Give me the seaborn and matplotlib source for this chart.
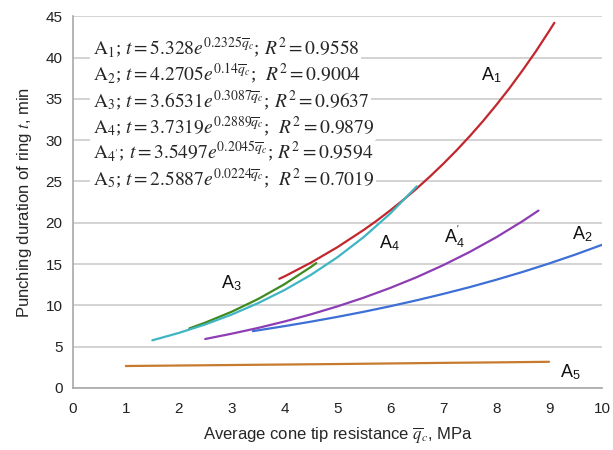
import matplotlib
matplotlib.use("Agg")
import matplotlib.pyplot as plt
import seaborn as sns
import pandas as pd

# ---- data ----
a1_q = [3.9, 4.0, 4.5, 5.0, 5.5, 5.75, 6.0, 6.25, 6.5, 6.75, 7.0, 7.25, 7.5, 7.75, 8.0, 8.25, 8.5, 8.75, 9.0, 9.1]
a1_t = [13.21, 13.50, 15.17, 17.04, 19.14, 20.28, 21.50, 22.79, 24.15, 25.60, 27.13, 28.75, 30.47, 32.29,
        34.23, 36.27, 38.45, 40.74, 43.19, 44.20]

a2_q = [3.4, 4.0, 4.5, 5.0, 5.5, 6.0, 6.5, 7.0, 7.5, 8.0, 8.5, 9.0, 9.5, 10.0]
a2_t = [6.87, 7.48, 8.02, 8.60, 9.22, 9.89, 10.61, 11.38, 12.20, 13.09, 14.04, 15.06, 16.15, 17.32]

a3_q = [2.2, 2.5, 3.0, 3.5, 4.0, 4.5, 4.6]
a3_t = [7.20, 7.90, 9.22, 10.76, 12.56, 14.65, 15.11]

a4_q = [1.5, 2.0, 2.5, 3.0, 3.5, 4.0, 4.5, 5.0, 5.5, 6.0, 6.5]
a4_t = [5.76, 6.65, 7.68, 8.88, 10.26, 11.85, 13.69, 15.82, 18.28, 21.12, 24.41]

a4p_q = [2.5, 3.0, 3.5, 4.0, 4.5, 5.0, 5.5, 6.0, 6.5, 7.0, 7.5, 8.0, 8.5, 8.8]
a4p_t = [5.92, 6.56, 7.26, 8.04, 8.91, 9.87, 10.93, 12.11, 13.41, 14.86, 16.46, 18.23, 20.19, 21.47]

a5_q = [1, 2, 3, 4, 5, 6, 7, 8, 9]
a5_t = [2.65, 2.71, 2.77, 2.83, 2.89, 2.96, 3.03, 3.09, 3.16]

series_names = ["A1", "A2", "A3", "A4", "A4p", "A5"]
colors = ["#C1272D", "#3D6FD6", "#3F8A1F", "#3FB5C4", "#8D3DB3", "#C77B2E"]

equations = [
    r"$\mathrm{A}_1$; $t = 5.328e^{0.2325\overline{q}_c}$; $R^2 = 0.9558$",
    r"$\mathrm{A}_2$; $t = 4.2705e^{0.14\overline{q}_c}$;  $R^2 = 0.9004$",
    r"$\mathrm{A}_3$; $t = 3.6531e^{0.3087\overline{q}_c}$; $R^2 = 0.9637$",
    r"$\mathrm{A}_4$; $t = 3.7319e^{0.2889\overline{q}_c}$;  $R^2 = 0.9879$",
    r"$\mathrm{A}_{4'}$; $t = 3.5497e^{0.2045\overline{q}_c}$; $R^2 = 0.9594$",
    r"$\mathrm{A}_5$; $t = 2.5887e^{0.0224\overline{q}_c}$;  $R^2 = 0.7019$",
]

curve_labels = [r"A$_\mathregular{1}$", r"A$_\mathregular{2}$", r"A$_\mathregular{3}$",
                r"A$_\mathregular{4}$", r"A$^\mathregular{'}_\mathregular{4}$", r"A$_\mathregular{5}$"]
label_pos = [(7.9, 37.8), (9.62, 18.6), (3.0, 12.7), (5.99, 17.5), (7.22, 18.3), (9.4, 1.9)]

frames = []
for name, q, t in zip(series_names,
                      [a1_q, a2_q, a3_q, a4_q, a4p_q, a5_q],
                      [a1_t, a2_t, a3_t, a4_t, a4p_t, a5_t]):
    frames.append(pd.DataFrame({"q": q, "t": t, "series": name}))
df = pd.concat(frames, ignore_index=True)

sns.set_style("white")
plt.rcParams["font.family"] = ["Liberation Sans", "DejaVu Sans"]
plt.rcParams["mathtext.fontset"] = "stix"

fig = plt.figure(figsize=(6.13, 4.5), dpi=100)
ax = fig.add_axes([0.119, 0.138, 0.863, 0.826])

for i, name in enumerate(series_names):
    sub = df[df["series"] == name]
    sns.lineplot(data=sub, x="q", y="t", color=colors[i], lw=1.6, ax=ax,
                 legend=False, sort=True, zorder=3)

ax.set_xlim(0, 10)
ax.set_ylim(0, 45)
ax.set_xticks(range(0, 11))
ax.set_yticks(range(0, 46, 5))
ax.yaxis.grid(True, color="#D3D3D3", lw=1.4, zorder=0)
ax.xaxis.grid(False)
ax.set_axisbelow(True)
for s in ["top", "right"]:
    ax.spines[s].set_visible(False)
for s in ["left", "bottom"]:
    ax.spines[s].set_color("#A8A8A8")
    ax.spines[s].set_linewidth(1.2)
ax.tick_params(axis="both", which="both", length=4, color="#A8A8A8",
               labelsize=11, labelcolor="#222222", direction="out")
ax.tick_params(axis="x", pad=6)

ax.set_xlabel(r"Average cone tip resistance $\overline{q}_c$, MPa", fontsize=12, labelpad=7)
ax.set_ylabel(r"Punching duration of ring $t$, min", fontsize=12, labelpad=8)

# equations block
y0 = 0.915
dy = 0.0700
for k, eq in enumerate(equations):
    ax.text(0.037, y0 - k * dy, eq, transform=ax.transAxes, fontsize=14,
            family=["Liberation Serif", "DejaVu Serif"], math_fontfamily="stix",
            va="center", ha="left", zorder=5,
            bbox=dict(facecolor="white", edgecolor="none", pad=1.5))

for lab, (x, y) in zip(curve_labels, label_pos):
    ax.text(x, y, lab, fontsize=13, ha="center", va="center", color="#111111", zorder=6)

fig.savefig("out.png", dpi=100)
